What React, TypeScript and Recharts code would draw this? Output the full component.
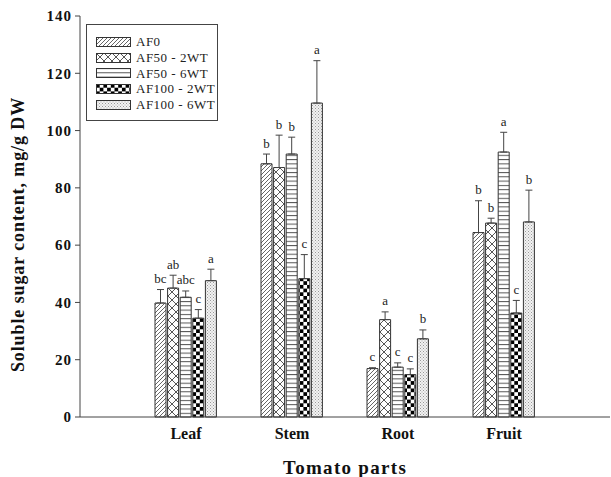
import { BarChart, Bar, XAxis, YAxis, ErrorBar, LabelList, Legend } from "recharts";

const serif = "'Liberation Serif', 'Times New Roman', serif";

const parts = ["Leaf", "Stem", "Root", "Fruit"];
const groups = ["AF0", "AF50 - 2WT", "AF50 - 6WT", "AF100 - 2WT", "AF100 - 6WT"];
const yTicks = [0, 20, 40, 60, 80, 100, 120, 140];

// means, mg/g DW (Leaf, Stem, Root, Fruit)
const af0 = [39.8, 88.4, 16.9, 64.4];
const af50w2 = [45.0, 87.1, 34.0, 67.7];
const af50w6 = [41.8, 91.8, 17.4, 92.5];
const af100w2 = [34.5, 48.3, 14.8, 36.3];
const af100w6 = [47.6, 109.6, 27.3, 68.1];

// upper error bars
const af0Err = [4.7, 3.4, 0.3, 11.1];
const af50w2Err = [4.5, 11.3, 2.7, 1.7];
const af50w6Err = [2.2, 5.9, 1.5, 6.9];
const af100w2Err = [3.0, 8.4, 2.0, 4.4];
const af100w6Err = [4.0, 14.8, 3.1, 11.1];

// significance letters
const af0Sig = ["bc", "b", "c", "b"];
const af50w2Sig = ["ab", "b", "a", "b"];
const af50w6Sig = ["abc", "b", "c", "a"];
const af100w2Sig = ["c", "c", "c", "c"];
const af100w6Sig = ["a", "a", "b", "b"];

const means = [af0, af50w2, af50w6, af100w2, af100w6];
const errs = [af0Err, af50w2Err, af50w6Err, af100w2Err, af100w6Err];
const sigs = [af0Sig, af50w2Sig, af50w6Sig, af100w2Sig, af100w6Sig];
const patIds = ["pAF0", "pAF50a", "pAF50b", "pAF100a", "pAF100b"];

const rows = parts.map((part, i) => {
  const row: any = { part };
  means.forEach((m, s) => {
    row[`v${s}`] = m[i];
    row[`e${s}`] = [0, errs[s][i]];
  });
  return row;
});

function Patterns() {
  return (
    <defs>
      <pattern id="pAF0" patternUnits="userSpaceOnUse" width="4" height="4">
        <rect width="4" height="4" fill="#fff" />
        <path d="M-1,1 L1,-1 M0,4 L4,0 M3,5 L5,3" stroke="#555" strokeWidth="0.9" />
      </pattern>
      <pattern id="pAF50a" patternUnits="userSpaceOnUse" width="8" height="8">
        <rect width="8" height="8" fill="#fff" />
        <path d="M0,0 L8,8 M8,0 L0,8" stroke="#444" strokeWidth="0.9" />
      </pattern>
      <pattern id="pAF50b" patternUnits="userSpaceOnUse" width="4" height="4.3">
        <rect width="4" height="4.3" fill="#fff" />
        <line x1="0" y1="0.5" x2="4" y2="0.5" stroke="#555" strokeWidth="1" />
      </pattern>
      <pattern id="pAF100a" patternUnits="userSpaceOnUse" width="7.4" height="7.4">
        <rect width="7.4" height="7.4" fill="#fff" />
        <rect width="3.7" height="3.7" fill="#000" />
        <rect x="3.7" y="3.7" width="3.7" height="3.7" fill="#000" />
      </pattern>
      <pattern id="pAF100b" patternUnits="userSpaceOnUse" width="3" height="3">
        <rect width="3" height="3" fill="#f2f2f2" />
        <rect width="1" height="1" fill="#999" />
        <rect x="1.5" y="1.5" width="1" height="1" fill="#aaa" />
      </pattern>
    </defs>
  );
}

const sigLabel = (s: number) => (props: any) => {
  const { x, y, width, height, value, index } = props;
  if (!value) return null;
  const pxPer = Number(height) / Number(value);
  const capY = Number(y) - errs[s][index] * pxPer;
  return (
    <text
      x={Number(x) + Number(width) / 2}
      y={capY - 6.5}
      textAnchor="middle"
      fontSize={13}
      fontFamily={serif}
      fill="#222"
    >
      {sigs[s][index]}
    </text>
  );
};

const renderLegend = () => (
  <div
    style={{
      border: "1px solid #444",
      background: "#fff",
      padding: "9px 0 7px 9px",
      width: 132,
      boxSizing: "border-box",
      fontFamily: serif,
      fontSize: 13,
      color: "#222",
    }}
  >
    {groups.map((g, s) => (
      <div key={g} style={{ display: "flex", alignItems: "center", height: 15.8 }}>
        <svg width={35} height={10} style={{ marginRight: 5, display: "block" }}>
          <rect x={0.5} y={0.5} width={34} height={9} fill={`url(#${patIds[s]})`} stroke="#333" />
        </svg>
        <span style={{ letterSpacing: 0.5, whiteSpace: "nowrap" }}>{g}</span>
      </div>
    ))}
  </div>
);

export default function App() {
  return (
    <div style={{ position: "absolute", left: 0, top: 0, width: 611, height: 477, background: "#fff" }}>
      <BarChart
        width={611}
        height={477}
        data={rows}
        margin={{ top: 16, right: 1, bottom: 0, left: 0 }}
        barGap={1.6}
      >
        <Patterns />
        <XAxis
          dataKey="part"
          tickLine={false}
          tickSize={0}
          tickMargin={11}
          padding={{ left: 53, right: 53 }}
          height={60}
          axisLine={{ stroke: "#444" }}
          tick={{ fontSize: 16, fontWeight: "bold", fill: "#111", fontFamily: serif }}
          label={{
            value: "Tomato parts",
            position: "insideBottom",
            offset: 3,
            style: { fontSize: 19, fontWeight: "bold", fill: "#111", fontFamily: serif, letterSpacing: 1.3 },
          }}
        />
        <XAxis
          xAxisId="top"
          orientation="top"
          dataKey="part"
          height={0}
          tick={false}
          tickLine={false}
          axisLine={{ stroke: "#444" }}
        />
        <YAxis
          domain={[0, 140]}
          ticks={yTicks}
          interval={0}
          width={80}
          tickSize={5}
          tickMargin={3}
          axisLine={{ stroke: "#444" }}
          tickLine={{ stroke: "#444" }}
          tick={{ fontSize: 15, fontWeight: "bold", fill: "#111", fontFamily: serif, letterSpacing: 1 }}
          label={(p: any) => {
            const vb = p.viewBox || { x: 0, y: 16, height: 401 };
            const cx = vb.x + 24;
            const cy = vb.y + vb.height / 2 + 18;
            return (
              <text
                x={cx}
                y={cy}
                transform={`rotate(-90, ${cx}, ${cy})`}
                textAnchor="middle"
                fontSize={18}
                fontWeight="bold"
                fontFamily={serif}
                letterSpacing={0.9}
                fill="#111"
              >
                Soluble sugar content, mg/g DW
              </text>
            );
          }}
        />
        <YAxis
          yAxisId="right"
          orientation="right"
          width={0}
          domain={[0, 140]}
          tick={false}
          tickLine={false}
          axisLine={{ stroke: "#444" }}
        />
        <Legend
          content={renderLegend}
          layout="vertical"
          align="center"
          verticalAlign="middle"
          wrapperStyle={{ left: 86, top: 24, width: 132 }}
        />
        {groups.map((g, s) => (
          <Bar
            key={g}
            dataKey={`v${s}`}
            name={g}
            fill={`url(#${patIds[s]})`}
            stroke="#333"
            strokeWidth={1}
            barSize={11}
            isAnimationActive={false}
          >
            <ErrorBar dataKey={`e${s}`} width={3.5} stroke="#444" strokeWidth={1} direction="y" />
            <LabelList dataKey={`v${s}`} content={sigLabel(s)} />
          </Bar>
        ))}
      </BarChart>
    </div>
  );
}
